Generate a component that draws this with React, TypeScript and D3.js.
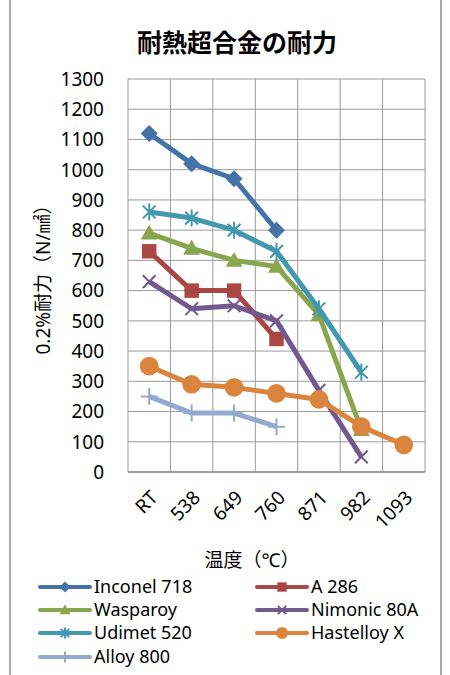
import React from 'react';
import * as d3 from 'd3';

const categories = ['RT', '538', '649', '760', '871', '982', '1093'];
const yTicks = [0, 100, 200, 300, 400, 500, 600, 700, 800, 900, 1000, 1100, 1200, 1300];

const inconel718 = [1120, 1020, 970, 800, null, null, null];
const a286 = [730, 600, 600, 440, null, null, null];
const wasparoy = [790, 740, 700, 680, 520, 140, null];
const nimonic80A = [630, 540, 550, 500, 270, 50, null];
const udimet520 = [860, 840, 800, 730, 540, 330, null];
const hastelloyX = [350, 290, 280, 260, 240, 150, 90];
const alloy800 = [250, 195, 195, 150, null, null, null];

type Marker = 'diamond' | 'square' | 'triangle' | 'x' | 'star' | 'circle' | 'plus';

const series: { name: string; values: (number | null)[]; color: string; marker: Marker }[] = [
  { name: 'Inconel 718', values: inconel718, color: '#4572A7', marker: 'diamond' },
  { name: 'A 286', values: a286, color: '#AA4643', marker: 'square' },
  { name: 'Wasparoy', values: wasparoy, color: '#89A54E', marker: 'triangle' },
  { name: 'Nimonic 80A', values: nimonic80A, color: '#71588F', marker: 'x' },
  { name: 'Udimet 520', values: udimet520, color: '#4198AF', marker: 'star' },
  { name: 'Hastelloy X', values: hastelloyX, color: '#DB843D', marker: 'circle' },
  { name: 'Alloy 800', values: alloy800, color: '#93A9CF', marker: 'plus' },
];

const FONT = '"Noto Sans", "Noto Sans CJK JP", sans-serif';

// draws one marker centred on 0,0
function MarkerShape({ type, color, s }: { type: Marker; color: string; s: number }) {
  const h = s / 2;
  switch (type) {
    case 'diamond':
      return <path d={`M0,${-h}L${h},0L0,${h}L${-h},0Z`} fill={color} />;
    case 'square':
      return <rect x={-h * 0.85} y={-h * 0.85} width={s * 0.85} height={s * 0.85} fill={color} />;
    case 'triangle':
      return <path d={`M0,${-h}L${h},${h * 0.75}L${-h},${h * 0.75}Z`} fill={color} />;
    case 'circle':
      return <circle r={h * 1.1} fill={color} />;
    case 'x': {
      const k = h * 0.75;
      return <path d={`M${-k},${-k}L${k},${k}M${-k},${k}L${k},${-k}`} stroke={color} strokeWidth={2} />;
    }
    case 'star': {
      const k = h * 0.75;
      return (
        <path d={`M${-k},${-k}L${k},${k}M${-k},${k}L${k},${-k}M0,${-h}L0,${h}`} stroke={color} strokeWidth={2} />
      );
    }
    case 'plus':
      return <path d={`M${-h},0L${h},0M0,${-h}L0,${h}`} stroke={color} strokeWidth={2} />;
  }
}

export default function App() {
  const W = 450;
  const H = 675;
  const left = 128, right = 425, top = 79, bottom = 472;

  const x = d3.scaleBand<string>().domain(categories).range([left, right]);
  const y = d3.scaleLinear().domain([0, 1300]).range([bottom, top]);

  const line = d3
    .line<number | null>()
    .defined(d => d != null)
    .x((_, i) => x(categories[i])! + x.bandwidth() / 2)
    .y(d => y(d as number));

  const gridColor = '#9A9A9A';
  const bounds = [...categories.map(c => x(c)!), right];

  const legendRows = [587, 610, 633, 657];
  const legendCols = [40, 257];

  return (
    <svg
      width={W}
      height={H}
      style={{ position: 'absolute', left: 0, top: 0, background: '#fff' }}
      fontFamily={FONT}
    >
      <rect x={0} y={0} width={W} height={H} fill="#fff" />
      {/* chart frame */}
      <line x1={10} x2={10} y1={0} y2={H} stroke="#8C8C8C" strokeWidth={1.5} />
      <line x1={441} x2={441} y1={0} y2={H} stroke="#8C8C8C" strokeWidth={1.5} />

      <text x={237} y={52} textAnchor="middle" fontSize={25} fontWeight="bold" fill="#000">
        耐熱超合金の耐力
      </text>

      {/* grid */}
      {yTicks.map(t => (
        <line key={'h' + t} x1={left} x2={right} y1={y(t)} y2={y(t)} stroke={gridColor} strokeWidth={1} />
      ))}
      {bounds.map((b, i) => (
        <line key={'v' + i} x1={b} x2={b} y1={top} y2={bottom} stroke={gridColor} strokeWidth={1} />
      ))}
      <line x1={left} x2={right} y1={bottom} y2={bottom} stroke="#8C8C8C" strokeWidth={1.5} />

      {/* y tick labels */}
      {yTicks.map(t => (
        <text key={'yt' + t} x={104} y={y(t)} dy="0.36em" textAnchor="end" fontSize={19} fill="#000">
          {t}
        </text>
      ))}

      {/* x tick labels */}
      {categories.map(c => {
        const cx = x(c)! + x.bandwidth() / 2 + 5;
        return (
          <text
            key={'xt' + c}
            transform={`translate(${cx},494) rotate(-45)`}
            dy="0.36em"
            textAnchor="end"
            fontSize={19}
            fill="#000"
          >
            {c}
          </text>
        );
      })}

      <text x={252} y={567} textAnchor="middle" fontSize={19} fill="#000">
        温度（℃）
      </text>
      <text transform="translate(50,275) rotate(-90)" textAnchor="middle" fontSize={19} fill="#000">
        0.2%耐力（N/㎟）
      </text>

      {/* series */}
      {series.map(s => (
        <g key={s.name}>
          <path d={line(s.values) ?? ''} fill="none" stroke={s.color} strokeWidth={5} strokeLinejoin="round" />
          {s.values.map((v, i) =>
            v == null ? null : (
              <g key={i} transform={`translate(${x(categories[i])! + x.bandwidth() / 2},${y(v)})`}>
                <MarkerShape type={s.marker} color={s.color} s={17} />
              </g>
            )
          )}
        </g>
      ))}

      {/* legend */}
      {series.map((s, i) => {
        const lx = legendCols[i % 2];
        const ly = legendRows[Math.floor(i / 2)];
        return (
          <g key={'lg' + s.name}>
            <line x1={lx} x2={lx + 50} y1={ly} y2={ly} stroke={s.color} strokeWidth={4} strokeLinecap="round" />
            <g transform={`translate(${lx + 25},${ly})`}>
              <MarkerShape type={s.marker} color={s.color} s={11} />
            </g>
            <text x={lx + 54} y={ly} dy="0.36em" fontSize={18} fill="#000">
              {s.name}
            </text>
          </g>
        );
      })}
    </svg>
  );
}
